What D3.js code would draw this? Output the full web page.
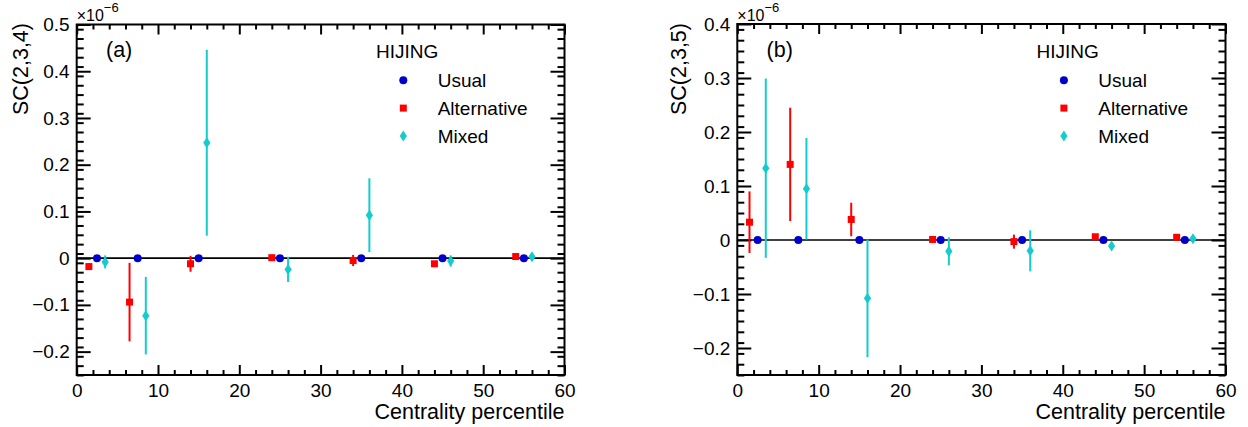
<!DOCTYPE html>
<html>
<head>
<meta charset="utf-8">
<script src="https://cdn.jsdelivr.net/npm/d3@7"></script>
<style>
  html, body { margin: 0; padding: 0; background: #ffffff; }
  svg { display: block; font-family: "Liberation Sans", Arial, Helvetica, sans-serif; }
</style>
</head>
<body>
<svg id="chart" width="1248" height="427"></svg>
<script>
// ---------------- DATA ----------------
const xTicks = [0, 10, 20, 30, 40, 50, 60];
const yTicksA = [-0.2, -0.1, 0, 0.1, 0.2, 0.3, 0.4, 0.5];
const yTicksB = [-0.2, -0.1, 0, 0.1, 0.2, 0.3, 0.4];

const usualX = [2.5, 7.5, 15, 25, 35, 45, 55];
const alternativeX = [1.5, 6.5, 14, 24, 34, 44, 54];
const mixedX = [3.5, 8.5, 16, 26, 36, 46, 56];

// SC(2,3,4), units of 1e-6
const usualA = [0, 0, 0, 0, 0, 0, 0];
const usualErrA = [0.002, 0.002, 0.002, 0.002, 0.002, 0.002, 0.002];
const alternativeA = [-0.018, -0.094, -0.012, 0.001, -0.005, -0.012, 0.0035];
const alternativeErrA = [0.007, 0.084, 0.017, 0.004, 0.012, 0.003, 0.004];
const mixedA = [-0.008, -0.123, 0.247, -0.024, 0.092, -0.006, 0.003];
const mixedErrA = [0.014, 0.083, 0.199, 0.027, 0.079, 0.012, 0.008];

// SC(2,3,5), units of 1e-6
const usualB = [0, 0, 0, 0, 0, 0, 0];
const usualErrB = [0.002, 0.002, 0.002, 0.002, 0.002, 0.002, 0.002];
const alternativeB = [0.033, 0.140, 0.038, 0.001, -0.003, 0.006, 0.005];
const alternativeErrB = [0.057, 0.105, 0.031, 0.003, 0.013, 0.004, 0.003];
const mixedB = [0.133, 0.095, -0.108, -0.021, -0.020, -0.011, 0.0025];
const mixedErrB = [0.166, 0.094, 0.109, 0.026, 0.038, 0.004, 0.005];

const seriesNames = ["Usual", "Alternative", "Mixed"];
const seriesColors = ["#0000cc", "#ff0000", "#14cccc"];
const seriesShapes = ["circle", "square", "diamond"];

// ---------------- DRAW ----------------
const svg = d3.select("#chart");
const FONT = '"Liberation Sans", Arial, Helvetica, sans-serif';

function marker(g, shape, color, x, y) {
  if (shape === "circle") {
    g.append("circle").attr("cx", x).attr("cy", y).attr("r", 4).attr("fill", color);
  } else if (shape === "square") {
    g.append("rect").attr("x", x - 3.5).attr("y", y - 3.5).attr("width", 7).attr("height", 7).attr("fill", color);
  } else {
    g.append("path")
      .attr("d", `M${x},${y - 5.5}L${x + 3.6},${y}L${x},${y + 5.5}L${x - 3.6},${y}Z`)
      .attr("fill", color);
  }
}

function panel(cfg) {
  const x = d3.scaleLinear().domain([0, 60]).range([cfg.x0, cfg.x1]);
  const y = d3.scaleLinear().domain(cfg.yDomain).range([375, cfg.yTop]);
  const g = svg.append("g");

  const fmt = d => (Math.abs(d) < 1e-9 ? "0" : d3.format(".1f")(d));
  const xMinor = d3.range(0, 61, 2).filter(v => v % 10 !== 0);
  const yMinor = d3.range(Math.round(cfg.yDomain[0] * 100), Math.round(cfg.yDomain[1] * 100) + 1, 2)
    .map(v => v / 100)
    .filter(v => Math.abs(Math.round(v * 10) - v * 10) > 1e-6);

  function styleAxis(sel) {
    sel.select(".domain").remove();
    sel.selectAll("line").attr("stroke", "#000").attr("stroke-width", 2);
    sel.selectAll("text").attr("fill", "#000").attr("font-family", FONT);
  }

  // bottom
  g.append("g").attr("transform", `translate(0,375)`)
    .call(d3.axisBottom(x).tickValues(xTicks).tickSizeInner(-10).tickSizeOuter(0).tickPadding(8.5).tickFormat(d3.format("d")))
    .call(styleAxis).call(s => s.selectAll("text").attr("font-size", 19));
  g.append("g").attr("transform", `translate(0,375)`)
    .call(d3.axisBottom(x).tickValues(xMinor).tickSizeInner(-5).tickSizeOuter(0).tickFormat(""))
    .call(styleAxis);
  // top
  g.append("g").attr("transform", `translate(0,${cfg.yTop})`)
    .call(d3.axisTop(x).tickValues(xTicks).tickSizeInner(-10).tickSizeOuter(0).tickFormat(""))
    .call(styleAxis);
  g.append("g").attr("transform", `translate(0,${cfg.yTop})`)
    .call(d3.axisTop(x).tickValues(xMinor).tickSizeInner(-5).tickSizeOuter(0).tickFormat(""))
    .call(styleAxis);
  // left
  g.append("g").attr("transform", `translate(${cfg.x0},0)`)
    .call(d3.axisLeft(y).tickValues(cfg.yTicks).tickSizeInner(-14).tickSizeOuter(0).tickPadding(7).tickFormat(fmt))
    .call(styleAxis).call(s => s.selectAll("text").attr("font-size", 19));
  g.append("g").attr("transform", `translate(${cfg.x0},0)`)
    .call(d3.axisLeft(y).tickValues(yMinor).tickSizeInner(-7).tickSizeOuter(0).tickFormat(""))
    .call(styleAxis);
  // right
  g.append("g").attr("transform", `translate(${cfg.x1},0)`)
    .call(d3.axisRight(y).tickValues(cfg.yTicks).tickSizeInner(-14).tickSizeOuter(0).tickFormat(""))
    .call(styleAxis);
  g.append("g").attr("transform", `translate(${cfg.x1},0)`)
    .call(d3.axisRight(y).tickValues(yMinor).tickSizeInner(-7).tickSizeOuter(0).tickFormat(""))
    .call(styleAxis);

  // frame
  g.append("rect").attr("x", cfg.x0).attr("y", cfg.yTop)
    .attr("width", cfg.x1 - cfg.x0).attr("height", 375 - cfg.yTop)
    .attr("fill", "none").attr("stroke", "#000").attr("stroke-width", 2);

  // zero line
  g.append("line").attr("x1", x(0)).attr("x2", x(60)).attr("y1", y(0)).attr("y2", y(0))
    .attr("stroke", "#000").attr("stroke-width", 1.6);

  // series
  cfg.series.forEach((s, i) => {
    const sg = g.append("g");
    s.xs.forEach((xv, k) => {
      sg.append("line")
        .attr("x1", x(xv)).attr("x2", x(xv))
        .attr("y1", y(s.ys[k] - s.errs[k])).attr("y2", y(s.ys[k] + s.errs[k]))
        .attr("stroke", seriesColors[i]).attr("stroke-width", 2);
    });
    s.xs.forEach((xv, k) => marker(sg, seriesShapes[i], seriesColors[i], x(xv), y(s.ys[k])));
  });

  // exponent
  const ex = g.append("text").attr("x", cfg.x0).attr("y", 20.7)
    .style("font-size", "16px").attr("fill", "#000").attr("font-family", FONT);
  ex.append("tspan").style("font-size", "16px").text("\u00d710");
  ex.append("tspan").attr("dy", -9).style("font-size", "13px").text("\u22126");

  // y title
  g.append("text")
    .attr("transform", `translate(${cfg.yTitleX},23) rotate(-90)`)
    .attr("text-anchor", "end").attr("font-size", 21.5).attr("fill", "#000")
    .text(cfg.yTitle);

  // x title
  g.append("text").attr("x", cfg.x1).attr("y", 419)
    .attr("text-anchor", "end").attr("font-size", 21.5).attr("fill", "#000")
    .text("Centrality percentile");

  // panel label
  g.append("text").attr("x", cfg.x0 + 29.3).attr("y", 57)
    .attr("font-size", 21.5).attr("fill", "#000").text(cfg.label);

  // legend
  g.append("text").attr("x", cfg.x0 + 299.3).attr("y", 58)
    .attr("font-size", 19).attr("fill", "#000").text("HIJING");
  seriesNames.forEach((n, i) => {
    const cy = 80.3 + i * 27.8;
    marker(g, seriesShapes[i], seriesColors[i], cfg.x0 + 326.6, cy);
    g.append("text").attr("x", cfg.x0 + 361).attr("y", cy + 7)
      .attr("font-size", 19).attr("fill", "#000").text(n);
  });
}

panel({
  x0: 76.7, x1: 564.5, yTop: 24.5, yDomain: [-0.25, 0.5], yTicks: yTicksA,
  yTitle: "SC(2,3,4)", yTitleX: 27.5, label: "(a)",
  series: [
    { xs: usualX, ys: usualA, errs: usualErrA },
    { xs: alternativeX, ys: alternativeA, errs: alternativeErrA },
    { xs: mixedX, ys: mixedA, errs: mixedErrA }
  ]
});

panel({
  x0: 737.3, x1: 1225.5, yTop: 24, yDomain: [-0.25, 0.4], yTicks: yTicksB,
  yTitle: "SC(2,3,5)", yTitleX: 686.3, label: "(b)",
  series: [
    { xs: usualX, ys: usualB, errs: usualErrB },
    { xs: alternativeX, ys: alternativeB, errs: alternativeErrB },
    { xs: mixedX, ys: mixedB, errs: mixedErrB }
  ]
});
</script>
</body>
</html>
